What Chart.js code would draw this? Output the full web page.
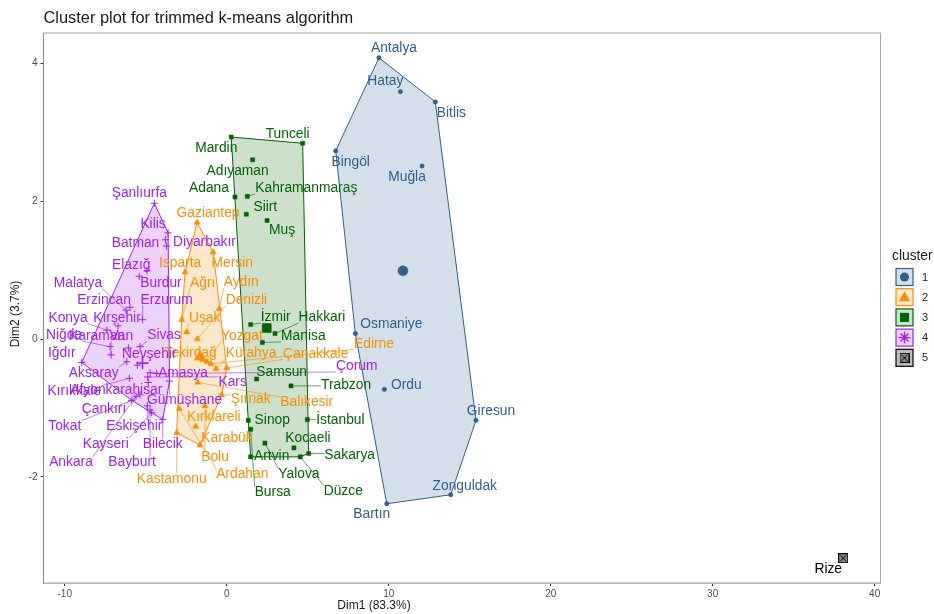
<!DOCTYPE html>
<html>
<head>
<meta charset="utf-8">
<script src="https://cdn.jsdelivr.net/npm/chart.js"></script>
<style>
  body { margin: 0; background: #fff; }
</style>
</head>
<body>
<canvas id="myChart" width="934" height="614"></canvas>
<script>
// province names, grouped by cluster (1, 2, 3, 4, 5)
const provinces = [
  "Antalya", "Hatay", "Bitlis", "Bingöl", "Muğla", "Osmaniye", "Ordu", "Giresun", "Zonguldak", "Bartın",
  "Gaziantep", "Mersin", "Isparta", "Aydın", "Ağrı", "Uşak", "Denizli", "Tekirdağ", "Yozgat", "Kütahya",
  "Çanakkale", "Edirne", "Şırnak", "Balıkesir", "Kırklareli", "Karabük", "Bolu", "Ardahan", "Kastamonu",
  "Mardin", "Tunceli", "Adıyaman", "Adana", "Kahramanmaraş", "Siirt", "Muş", "İzmir", "Hakkari", "Manisa",
  "Samsun", "Trabzon", "Sinop", "İstanbul", "Kocaeli", "Sakarya", "Bursa", "Yalova", "Artvin", "Düzce",
  "Şanlıurfa", "Kilis", "Batman", "Diyarbakır", "Elazığ", "Burdur", "Malatya", "Erzincan", "Erzurum", "Konya",
  "Kırşehir", "Niğde", "Karaman", "Van", "Sivas", "Iğdır", "Nevşehir", "Aksaray", "Amasya", "Çorum",
  "Kars", "Kırıkkale", "Afyonkarahisar", "Gümüşhane", "Çankırı", "Tokat", "Eskişehir", "Kayseri", "Bilecik", "Ankara",
  "Bayburt",
  "Rize"
];

const dim1 = [
  9.40, 10.72, 12.88, 6.73, 12.06, 7.94, 9.73, 15.39, 13.83, 9.88,
  -1.83, -0.83, -2.57, -0.46, -2.78, -2.47, -1.81, -1.49, -1.22, -0.66,
  0.00, -0.97, -0.31, -1.79, -1.91, -1.65, -1.34, -2.93, -3.09,
  0.28, 4.69, 1.60, 0.51, 1.27, 1.21, 2.49, 1.48, 2.98, 2.20,
  1.85, 3.97, 1.33, 4.98, 4.15, 5.06, 1.48, 2.36, 1.48, 4.54,
  -4.47, -3.62, -3.78, -3.72, -5.40, -4.92, -6.22, -5.97, -5.19, -7.39,
  -6.71, -7.20, -7.14, -6.07, -5.35, -8.95, -5.52, -6.17, -4.73, -4.32,
  -4.88, -6.01, -4.84, -3.53, -5.35, -5.86, -4.90, -4.63, -3.95, -5.60,
  -4.73,
  38.06
];

const dim2 = [
  4.08, 3.59, 3.44, 2.73, 2.51, 0.08, -0.73, -1.18, -2.26, -2.39,
  1.69, 1.26, 0.97, 0.44, 0.28, 0.10, 0.00, -0.30, -0.33, -0.43,
  -0.42, -0.36, -0.81, -0.63, -1.27, -1.54, -0.97, -1.01, -1.36,
  2.93, 2.84, 2.60, 2.06, 2.07, 1.81, 1.72, 0.21, 0.08, -0.05,
  -0.58, -0.68, -1.18, -1.17, -1.58, -1.66, -1.31, -1.51, -1.71, -1.71,
  1.97, 1.54, 1.44, 1.35, 0.91, 0.99, 0.42, 0.46, 0.28, 0.13,
  0.19, -0.11, -0.23, -0.13, -0.11, -0.34, -0.38, -0.33, -0.49, -0.50,
  -0.55, -0.57, -0.63, -0.61, -0.81, -0.89, -0.97, -1.07, -1.17, -0.83,
  -1.03,
  -3.18
];

const cluster = [
  1, 1, 1, 1, 1, 1, 1, 1, 1, 1,
  2, 2, 2, 2, 2, 2, 2, 2, 2, 2,
  2, 2, 2, 2, 2, 2, 2, 2, 2,
  3, 3, 3, 3, 3, 3, 3, 3, 3, 3,
  3, 3, 3, 3, 3, 3, 3, 3, 3, 3,
  4, 4, 4, 4, 4, 4, 4, 4, 4, 4,
  4, 4, 4, 4, 4, 4, 4, 4, 4, 4,
  4, 4, 4, 4, 4, 4, 4, 4, 4, 4,
  4,
  5
];

const clusterIds = [1, 2, 3, 4, 5];
const centerDim1 = [10.88, -1.65, 2.47, -5.20];
const centerDim2 = [0.99, -0.26, 0.16, -0.35];

const xTicks = [-10, 0, 10, 20, 30, 40];
const yTicks = [-2, 0, 2, 4];

// styling
const colors = ["#2f5f8f", "#ff8c00", "#006400", "#a020f0", "#000000"];
const fills = ["rgba(47,95,143,0.2)", "rgba(255,140,0,0.2)", "rgba(0,100,0,0.2)", "rgba(160,32,240,0.2)", "#bdbdbd"];
const FONT = "'Liberation Sans', Arial, Helvetica, sans-serif";

// label offsets from the point, in pixels (repelled label positions)
const labelOffset = {
  "Antalya": [15, -10], "Hatay": [-15, -10], "Bitlis": [16, 11], "Bingöl": [15, 11], "Muğla": [-15, 11],
  "Osmaniye": [36, -9], "Ordu": [22, -4], "Giresun": [15, -9], "Zonguldak": [14, -9], "Bartın": [-15, 10],
  "Gaziantep": [11, -9], "Mersin": [19, 11], "Isparta": [-5, -9], "Aydın": [22, -26], "Ağrı": [21, -37],
  "Uşak": [18, -14], "Denizli": [49, -39], "Tekirdağ": [-12, -6], "Yozgat": [35, -26], "Kütahya": [35, -15],
  "Çanakkale": [89, -14], "Edirne": [163, -20], "Şırnak": [29, 4], "Balıkesir": [109, 20], "Kırklareli": [18, -9],
  "Karabük": [27, -7], "Bolu": [10, 51], "Ardahan": [63, 66], "Kastamonu": [-5, 46],
  "Mardin": [-15, 11], "Tunceli": [-15, -9], "Adıyaman": [-15, 11], "Adana": [-26, -9], "Kahramanmaraş": [59, -8],
  "Siirt": [19, -7], "Muş": [15, 10], "İzmir": [25, -7], "Hakkari": [47, -16], "Manisa": [41, -6],
  "Samsun": [25, -7], "Trabzon": [55, -1], "Sinop": [24, 0], "İstanbul": [33, 1], "Kocaeli": [14, -10],
  "Sakarya": [41, 2], "Bursa": [22, 63], "Yalova": [34, 31], "Artvin": [21, -1], "Düzce": [43, 34],
  "Şanlıurfa": [-15, -10], "Kilis": [-15, -9], "Batman": [-30, 3], "Diyarbakır": [38, -4], "Elazığ": [-8, -11],
  "Burdur": [14, 12], "Malatya": [-48, -27], "Erzincan": [-26, -7], "Erzurum": [24, -20], "Konya": [-39, -12],
  "Kırşehir": [-1, -8], "Niğde": [-46, -11], "Karaman": [-14, -19], "Van": [-7, -12], "Sivas": [24, -11],
  "Iğdır": [-20, -9], "Nevşehir": [12, -11], "Aksaray": [-33, 11], "Amasya": [33, 0], "Çorum": [200, -7],
  "Kars": [85, 5], "Kırıkkale": [-55, 13], "Afyonkarahisar": [-32, 8], "Gümüşhane": [15, 19], "Çankırı": [-36, 14],
  "Tokat": [-67, 26], "Eskişehir": [-13, 20], "Kayseri": [-46, 31], "Bilecik": [0, 25], "Ankara": [-65, 66],
  "Bayburt": [-18, 52], "Rize": [-15, 11]
};

// boxed X marker for cluster 5
const boxX = document.createElement("canvas");
boxX.width = 10; boxX.height = 10;
(function () {
  const c = boxX.getContext("2d");
  c.fillStyle = "#8c8c8c";
  c.fillRect(0, 0, 10, 10);
  c.strokeStyle = "#000";
  c.lineWidth = 1;
  c.strokeRect(0.5, 0.5, 9, 9);
  c.beginPath();
  c.moveTo(2, 2); c.lineTo(8, 8);
  c.moveTo(8, 2); c.lineTo(2, 8);
  c.stroke();
})();

const pointStyles = ["circle", "triangle", "rect", "cross", boxX];
const pointRadii = [2.2, 3.6, 2.9, 3.6, 5];
const centerRadii = [5, 6.5, 6.4, 6];

const datasets = [];
clusterIds.forEach((k, j) => {
  const pts = [];
  for (let i = 0; i < provinces.length; i++) {
    if (cluster[i] === k) pts.push({ x: dim1[i], y: dim2[i], name: provinces[i] });
  }
  datasets.push({
    label: String(k),
    data: pts,
    pointStyle: pointStyles[j],
    pointRadius: pointRadii[j],
    backgroundColor: colors[j],
    borderColor: colors[j],
    borderWidth: k === 4 ? 1 : 0.5,
    showLine: false,
    clusterIndex: j,
    hull: pts.length > 2,
    labelled: true
  });
});
centerDim1.forEach((cx, j) => {
  datasets.push({
    label: "center " + (j + 1),
    data: [{ x: cx, y: centerDim2[j] }],
    pointStyle: pointStyles[j],
    pointRadius: centerRadii[j],
    backgroundColor: colors[j],
    borderColor: colors[j],
    borderWidth: j === 3 ? 1.6 : 0.5,
    showLine: false
  });
});

function convexHull(points) {
  const p = points.slice().sort((a, b) => a[0] - b[0] || a[1] - b[1]);
  const cross = (o, a, b) => (a[0] - o[0]) * (b[1] - o[1]) - (a[1] - o[1]) * (b[0] - o[0]);
  const lower = [], upper = [];
  for (const q of p) {
    while (lower.length >= 2 && cross(lower[lower.length - 2], lower[lower.length - 1], q) <= 0) lower.pop();
    lower.push(q);
  }
  for (let i = p.length - 1; i >= 0; i--) {
    const q = p[i];
    while (upper.length >= 2 && cross(upper[upper.length - 2], upper[upper.length - 1], q) <= 0) upper.pop();
    upper.push(q);
  }
  upper.pop(); lower.pop();
  return lower.concat(upper);
}

const hullPlugin = {
  id: "hulls",
  beforeDatasetsDraw(chart) {
    const ctx = chart.ctx;
    chart.data.datasets.forEach((ds, i) => {
      if (!ds.hull) return;
      const pts = chart.getDatasetMeta(i).data.map(p => [p.x, p.y]);
      const hull = convexHull(pts);
      ctx.save();
      ctx.beginPath();
      hull.forEach((p, n) => n ? ctx.lineTo(p[0], p[1]) : ctx.moveTo(p[0], p[1]));
      ctx.closePath();
      ctx.fillStyle = fills[ds.clusterIndex];
      ctx.fill();
      ctx.strokeStyle = colors[ds.clusterIndex];
      ctx.lineWidth = 1;
      ctx.stroke();
      ctx.restore();
    });
  }
};

const labelPlugin = {
  id: "pointLabels",
  afterDatasetsDraw(chart) {
    const ctx = chart.ctx;
    ctx.save();
    ctx.font = "13.8px " + FONT;
    ctx.textAlign = "center";
    ctx.textBaseline = "middle";
    const items = [];
    chart.data.datasets.forEach((ds, i) => {
      if (!ds.labelled) return;
      chart.getDatasetMeta(i).data.forEach((el, n) => {
        const name = ds.data[n].name;
        const off = labelOffset[name] || [0, -10];
        items.push({ name, px: el.x, py: el.y, lx: el.x + off[0], ly: el.y + off[1], color: colors[ds.clusterIndex] });
      });
    });
    // leader segments first
    items.forEach(it => {
      const w = ctx.measureText(it.name).width / 2;
      const h = 5.5;
      const nx = Math.max(it.lx - w, Math.min(it.px, it.lx + w));
      const ny = Math.max(it.ly - h, Math.min(it.py, it.ly + h));
      if (Math.hypot(nx - it.px, ny - it.py) > 8) {
        ctx.beginPath();
        ctx.moveTo(it.px, it.py);
        ctx.lineTo(nx, ny);
        ctx.strokeStyle = it.color;
        ctx.lineWidth = 0.6;
        ctx.stroke();
      }
    });
    items.forEach(it => {
      ctx.fillStyle = it.color;
      ctx.fillText(it.name, it.lx, it.ly);
    });
    ctx.restore();
  }
};

function drawKeyMarker(ctx, j, x, y) {
  ctx.fillStyle = colors[j];
  ctx.strokeStyle = colors[j];
  ctx.beginPath();
  if (j === 0) {
    ctx.arc(x, y, 4.5, 0, Math.PI * 2);
    ctx.fill();
  } else if (j === 1) {
    ctx.moveTo(x, y - 6); ctx.lineTo(x + 5.5, y + 4); ctx.lineTo(x - 5.5, y + 4); ctx.closePath();
    ctx.fill();
  } else if (j === 2) {
    ctx.fillRect(x - 4.5, y - 4.5, 9, 9);
  } else if (j === 3) {
    ctx.lineWidth = 1.4;
    ctx.moveTo(x - 6, y); ctx.lineTo(x + 6, y);
    ctx.moveTo(x, y - 6); ctx.lineTo(x, y + 6);
    ctx.moveTo(x - 4, y - 4); ctx.lineTo(x + 4, y + 4);
    ctx.moveTo(x + 4, y - 4); ctx.lineTo(x - 4, y + 4);
    ctx.stroke();
  } else {
    ctx.drawImage(boxX, x - 5, y - 5);
  }
}

const framePlugin = {
  id: "frame",
  afterDraw(chart) {
    const ctx = chart.ctx;
    const a = chart.chartArea;
    ctx.save();
    // panel border
    ctx.strokeStyle = "#a6a6a6";
    ctx.lineWidth = 1;
    ctx.strokeRect(a.left, a.top, a.right - a.left, a.bottom - a.top);
    ctx.strokeStyle = "#8a8a8a";
    ctx.beginPath(); ctx.moveTo(a.left, a.top); ctx.lineTo(a.left, a.bottom); ctx.stroke();

    // title
    ctx.fillStyle = "#1a1a1a";
    ctx.font = "16.4px " + FONT;
    ctx.textAlign = "left";
    ctx.textBaseline = "middle";
    ctx.fillText("Cluster plot for trimmed k-means algorithm", 43.5, 18.5);

    // axis titles
    ctx.font = "12px " + FONT;
    ctx.textAlign = "center";
    ctx.fillText("Dim1 (83.3%)", 374, 606);
    ctx.save();
    ctx.translate(16, 314);
    ctx.rotate(-Math.PI / 2);
    ctx.fillText("Dim2 (3.7%)", 0, 0);
    ctx.restore();

    // legend
    ctx.font = "13.8px " + FONT;
    ctx.textAlign = "left";
    ctx.fillText("cluster", 892, 256);
    clusterIds.forEach((k, j) => {
      const cy = 277 + j * 20.2;
      ctx.fillStyle = "#fff";
      ctx.fillRect(896, cy - 8.5, 17, 17);
      ctx.fillStyle = fills[j];
      ctx.fillRect(896, cy - 8.5, 17, 17);
      ctx.strokeStyle = colors[j];
      ctx.lineWidth = 1.2;
      ctx.strokeRect(896, cy - 8.5, 17, 17);
      drawKeyMarker(ctx, j, 904.5, cy);
      ctx.fillStyle = "#1a1a1a";
      ctx.font = "11px " + FONT;
      ctx.fillText(String(k), 922, cy + 0.5);
    });
    ctx.restore();
  }
};

const ctx = document.getElementById("myChart").getContext("2d");
const myChart = new Chart(ctx, {
  type: "scatter",
  data: { datasets: datasets },
  plugins: [hullPlugin, labelPlugin, framePlugin],
  options: {
    responsive: false,
    animation: false,
    events: [],
    layout: { padding: { top: 33, right: 53.5, left: 0, bottom: 0 } },
    plugins: {
      legend: { display: false },
      tooltip: { enabled: false },
      title: { display: false }
    },
    scales: {
      x: {
        type: "linear",
        min: -11.31,
        max: 40.36,
        afterBuildTicks: s => { s.ticks = xTicks.map(v => ({ value: v })); },
        afterFit: s => { s.height = 31; },
        grid: { drawOnChartArea: false, drawTicks: true, tickLength: 3, color: "#333" },
        border: { display: true, color: "#c8c8c8" },
        ticks: { color: "#4d4d4d", font: { size: 10, family: FONT }, padding: 2, maxRotation: 0, autoSkip: false }
      },
      y: {
        type: "linear",
        min: -3.54,
        max: 4.44,
        afterBuildTicks: s => { s.ticks = yTicks.map(v => ({ value: v })); },
        afterFit: s => { s.width = 43.5; },
        grid: { drawOnChartArea: false, drawTicks: true, tickLength: 3, color: "#333" },
        border: { display: true, color: "#8a8a8a" },
        ticks: { color: "#4d4d4d", font: { size: 10, family: FONT }, padding: 3, autoSkip: false }
      }
    }
  }
});
</script>
</body>
</html>
